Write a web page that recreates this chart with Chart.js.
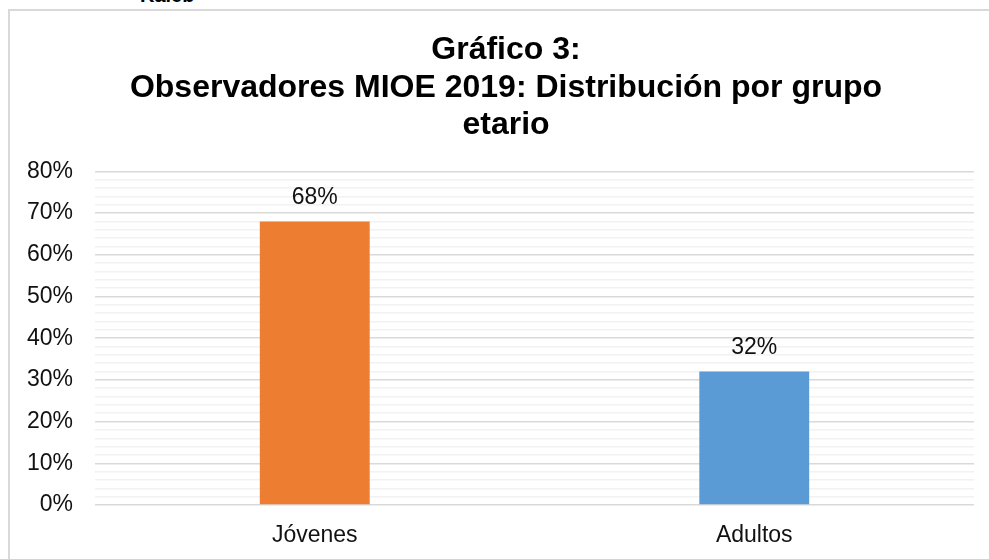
<!DOCTYPE html>
<html>
<head>
<meta charset="utf-8">
<script src="https://cdn.jsdelivr.net/npm/chart.js@4.4.1/dist/chart.umd.min.js"></script>
<style>
  html, body { margin: 0; padding: 0; background: #fff; }
  body { width: 989px; height: 559px; position: relative; overflow: hidden; }
  #frame { position: absolute; left: 8px; top: 9px; width: 1000px; height: 600px; border: 2px solid #d9d9d9; }
  #author { position: absolute; left: 140px; top: -15px; font: bold 20px "Liberation Sans", Arial, sans-serif; line-height: 20px; color: #000; }
  #ageChart { position: absolute; left: 0; top: 0; }
</style>
</head>
<body>
<div id="author">Kaleb</div>
<div id="frame"></div>
<canvas id="ageChart" width="989" height="559"></canvas>
<script>
const categories = ['Jóvenes', 'Adultos'];
const shares = [68, 32];
const barColors = ['#ED7D31', '#5B9BD5'];
const titleLines = ['Gráfico 3:', 'Observadores MIOE 2019: Distribución por grupo', 'etario'];

const fontFamily = '"Liberation Sans", Arial, sans-serif';

// value labels drawn above each bar
const barValueLabels = {
    id: 'barValueLabels',
    afterDatasetsDraw(chart) {
        const ctx = chart.ctx;
        const meta = chart.getDatasetMeta(0);
        ctx.save();
        ctx.font = '23px ' + fontFamily;
        ctx.fillStyle = '#111';
        ctx.textAlign = 'center';
        ctx.textBaseline = 'middle';
        meta.data.forEach((bar, i) => {
            ctx.fillText(shares[i] + '%', bar.x, bar.y - 24);
        });
        ctx.restore();
    }
};

// the title sits a bit right of the canvas centre in the original
const titleShift = {
    id: 'titleShift',
    afterLayout(chart) {
        if (chart.titleBlock) chart.titleBlock.left += 38;
    }
};

const ctx = document.getElementById('ageChart').getContext('2d');
new Chart(ctx, {
    type: 'bar',
    data: {
        labels: categories,
        datasets: [{
            data: shares,
            backgroundColor: barColors,
            borderWidth: 0,
            categoryPercentage: 1,
            barPercentage: 0.25
        }]
    },
    options: {
        responsive: false,
        animation: false,
        layout: { padding: { left: 0, right: 15, top: 0, bottom: 0 } },
        plugins: {
            legend: { display: false },
            tooltip: { enabled: false },
            title: {
                display: true,
                text: titleLines,
                color: '#000',
                font: { family: fontFamily, size: 32, weight: 'bold', lineHeight: 1.16 },
                padding: { top: 32, bottom: 28 }
            }
        },
        scales: {
            x: {
                afterFit(scale) { scale.height = 54; },
                grid: { display: false, drawTicks: false },
                border: { display: false },
                ticks: {
                    color: '#111',
                    padding: 17,
                    maxRotation: 0,
                    font: { family: fontFamily, size: 23 }
                }
            },
            y: {
                min: 0,
                max: 80,
                border: { display: false },
                afterFit(scale) { scale.width = 95; },
                grid: {
                    drawTicks: false,
                    color: c => (c.tick.value % 10 === 0 ? '#d9d9d9' : '#f2f2f2'),
                    lineWidth: 1.5
                },
                ticks: {
                    stepSize: 2,
                    maxTicksLimit: 100,
                    autoSkip: false,
                    padding: 22,
                    color: '#111',
                    font: { family: fontFamily, size: 23 },
                    callback: v => (v % 10 === 0 ? v + '%' : '')
                }
            }
        }
    },
    plugins: [barValueLabels, titleShift]
});
</script>
</body>
</html>
